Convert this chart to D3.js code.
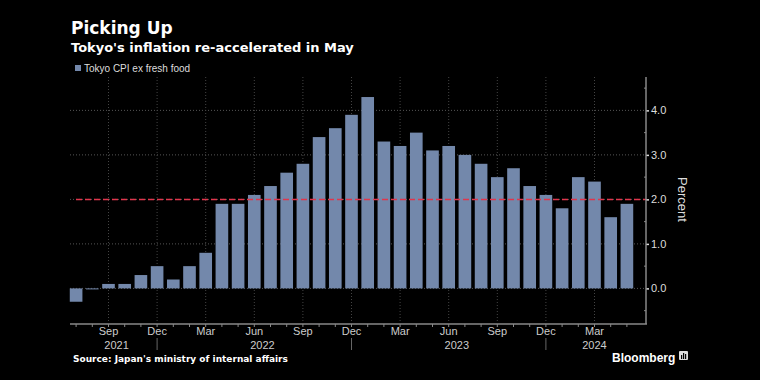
<!DOCTYPE html>
<html>
<head>
<meta charset="utf-8">
<script src="https://cdn.jsdelivr.net/npm/d3@7"></script>
<style>
  html, body { margin: 0; padding: 0; background: #000; }
  svg { display: block; font-family: "Liberation Sans", Arial, sans-serif; }
</style>
</head>
<body>
<div id="chart"></div>
<script>
// Tokyo CPI ex fresh food, YoY %
var months = ['2021-07','2021-08','2021-09','2021-10','2021-11','2021-12',
  '2022-01','2022-02','2022-03','2022-04','2022-05','2022-06','2022-07','2022-08','2022-09','2022-10','2022-11','2022-12',
  '2023-01','2023-02','2023-03','2023-04','2023-05','2023-06','2023-07','2023-08','2023-09','2023-10','2023-11','2023-12',
  '2024-01','2024-02','2024-03','2024-04','2024-05'];
var cpi = [-0.3, 0.0, 0.1, 0.1, 0.3, 0.5,
  0.2, 0.5, 0.8, 1.9, 1.9, 2.1, 2.3, 2.6, 2.8, 3.4, 3.6, 3.9,
  4.3, 3.3, 3.2, 3.5, 3.1, 3.2, 3.0, 2.8, 2.5, 2.7, 2.3, 2.1,
  1.8, 2.5, 2.4, 1.6, 1.9];
var monthNames = {'03': 'Mar', '06': 'Jun', '09': 'Sep', '12': 'Dec'};
var yTicks = [0, 1, 2, 3, 4];
var target = 2.0;
var years = ['2021', '2022', '2023', '2024'];

var W = 760, H = 380;
var svg = d3.select('#chart').append('svg').attr('width', W).attr('height', H);
svg.append('rect').attr('width', W).attr('height', H).attr('fill', '#000');

var x = d3.scaleBand().domain(months).range([68, 635]).paddingInner(0.22).paddingOuter(0.11);
var y = d3.scaleLinear().domain([-0.8, 4.75]).range([324, 77]);
var axisX = 646, left = 70;
var wide = '"DejaVu Sans", Verdana, sans-serif';

// titles
svg.append('text').attr('x', 71).attr('y', 34).attr('fill', '#fff').attr('font-family', wide)
  .attr('font-size', 17).attr('font-weight', 'bold').text('Picking Up');
svg.append('text').attr('x', 71).attr('y', 52).attr('fill', '#fff').attr('font-family', wide)
  .attr('font-size', 13).attr('font-weight', 'bold').text("Tokyo's inflation re-accelerated in May");

// legend
svg.append('rect').attr('x', 75).attr('y', 65).attr('width', 6).attr('height', 6).attr('fill', '#7388ab');
svg.append('text').attr('x', 84).attr('y', 72).attr('fill', '#ddd').attr('font-size', 10)
  .text('Tokyo CPI ex fresh food');

// horizontal grid
svg.append('g').selectAll('line').data(yTicks).join('line')
  .attr('x1', left).attr('x2', axisX - 2)
  .attr('y1', d => y(d)).attr('y2', d => y(d))
  .attr('stroke', '#555').attr('stroke-width', 1).attr('stroke-dasharray', '1,2');

// vertical grid at quarter months
var labelled = months.filter(m => monthNames[m.slice(5)]);
var cx = m => x(m) + x.bandwidth() / 2;
svg.append('g').selectAll('line').data(labelled).join('line')
  .attr('x1', cx).attr('x2', cx).attr('y1', 77).attr('y2', 323)
  .attr('stroke', '#444').attr('stroke-width', 1).attr('stroke-dasharray', '1,2');

// bars
svg.append('g').selectAll('rect').data(cpi).join('rect')
  .attr('x', (d, i) => x(months[i]))
  .attr('width', x.bandwidth())
  .attr('y', d => y(Math.max(0, d)))
  .attr('height', d => Math.max(1, Math.abs(y(d) - y(0))))
  .attr('fill', '#7388ab');

// 2% line
var ty = Math.round(y(target)) + 0.5;
svg.append('line').attr('x1', 76).attr('x2', axisX)
  .attr('y1', ty).attr('y2', ty)
  .attr('stroke', '#e0364c').attr('stroke-width', 1.5).attr('stroke-dasharray', '6,3');

// right axis
var yAxis = d3.axisRight(y).tickValues(yTicks).tickFormat(d3.format('.1f')).tickSize(3).tickPadding(2);
var gy = svg.append('g').attr('transform', 'translate(' + axisX + ',0)').call(yAxis);
gy.select('.domain').remove();
gy.selectAll('.tick line').attr('stroke', '#ddd').attr('stroke-width', 1.5);
gy.selectAll('.tick text').attr('fill', '#ddd').attr('font-size', 11).attr('font-family', '"Liberation Sans", Arial, sans-serif');
svg.append('line').attr('x1', axisX).attr('x2', axisX).attr('y1', 77).attr('y2', 324)
  .attr('stroke', '#888').attr('stroke-width', 1.5);
svg.append('g').selectAll('line').data(d3.range(-0.5, 4.6, 1)).join('line')
  .attr('x1', axisX - 2).attr('x2', axisX).attr('y1', d => y(d)).attr('y2', d => y(d))
  .attr('stroke', '#888');

svg.append('text').attr('transform', 'translate(678,' + y(2) + ') rotate(90)')
  .attr('text-anchor', 'middle').attr('fill', '#ddd').attr('font-size', 13).text('Percent');

// bottom axis
var xAxis = d3.axisBottom(x).tickSize(3).tickFormat(m => monthNames[m.slice(5)] || '');
var gx = svg.append('g').attr('transform', 'translate(0,324)').call(xAxis);
gx.select('.domain').remove();
gx.selectAll('.tick line').attr('stroke', '#888');
gx.selectAll('.tick text').attr('fill', '#ccc').attr('font-size', 11).attr('y', 11).attr('dy', 0)
  .attr('font-family', '"Liberation Sans", Arial, sans-serif');
svg.append('line').attr('x1', left).attr('x2', axisX + 1).attr('y1', 324).attr('y2', 324)
  .attr('stroke', '#888').attr('stroke-width', 1.5);

// year separators at December
var decs = months.filter(m => m.slice(5) === '12');
svg.append('g').selectAll('line').data(decs).join('line')
  .attr('x1', cx).attr('x2', cx).attr('y1', 338).attr('y2', 350)
  .attr('stroke', '#666');

// year labels centred on visible months of each year
svg.append('g').selectAll('text').data(years).join('text')
  .attr('x', yr => {
    var ms = months.filter(m => m.slice(0, 4) === yr);
    return (cx(ms[0]) + cx(ms[ms.length - 1])) / 2;
  })
  .attr('y', 349).attr('text-anchor', 'middle').attr('fill', '#ccc').attr('font-size', 11)
  .text(d => d);

// footer
svg.append('text').attr('x', 73).attr('y', 362).attr('fill', '#fff').attr('font-family', wide)
  .attr('font-size', 9).attr('font-weight', 'bold')
  .text("Source: Japan's ministry of internal affairs");
svg.append('text').attr('x', 612).attr('y', 362).attr('fill', '#fff')
  .attr('font-size', 12).attr('font-weight', 'bold').text('Bloomberg');
var logo = svg.append('g').attr('transform', 'translate(679,351)');
logo.append('rect').attr('width', 9).attr('height', 9).attr('rx', 1).attr('fill', '#ddd');
logo.append('rect').attr('x', 2).attr('y', 4).attr('width', 1.2).attr('height', 4).attr('fill', '#000');
logo.append('rect').attr('x', 4).attr('y', 2).attr('width', 1.2).attr('height', 6).attr('fill', '#000');
logo.append('rect').attr('x', 6).attr('y', 3).attr('width', 1.2).attr('height', 5).attr('fill', '#000');
</script>
</body>
</html>
